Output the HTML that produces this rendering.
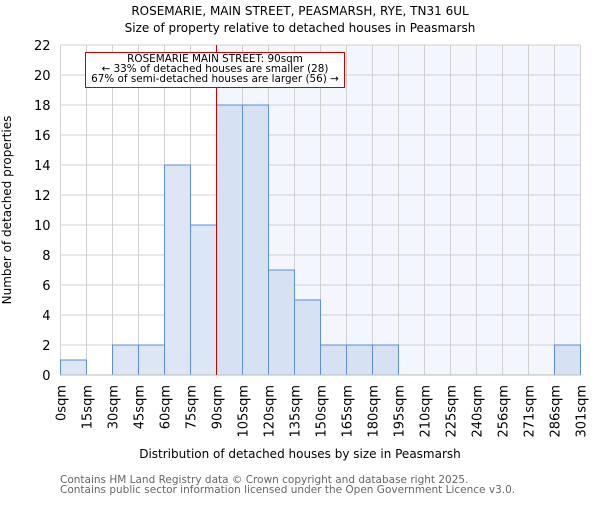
<!DOCTYPE html>
<html><head><meta charset="utf-8"><style>
body{margin:0;background:#fff}
svg text{font-family:"DejaVu Sans","Liberation Sans",sans-serif}
</style></head><body>
<svg id="chart" width="600" height="500" viewBox="0 0 600 500">
<text x="300" y="15" text-anchor="middle" font-size="12" fill="#000">ROSEMARIE, MAIN STREET, PEASMARSH, RYE, TN31 6UL</text>
<text x="300" y="32" text-anchor="middle" font-size="12" fill="#000">Size of property relative to detached houses in Peasmarsh</text>
<rect id="bgR" fill="#f3f6fd"/>
<g id="grid"></g>
<g id="bars"></g>
<g id="axes"></g>
<text x="300" y="458" text-anchor="middle" font-size="12">Distribution of detached houses by size in Peasmarsh</text>
<text transform="translate(11,210) rotate(-90)" text-anchor="middle" font-size="12">Number of detached properties</text>
<text x="60" y="483" font-size="10.5" fill="#666">Contains HM Land Registry data © Crown copyright and database right 2025.</text>
<text x="60" y="493" font-size="10.5" fill="#666">Contains public sector information licensed under the Open Government Licence v3.0.</text>
</svg>
<script>
const categories=["0sqm","15sqm","30sqm","45sqm","60sqm","75sqm","90sqm","105sqm","120sqm","135sqm","150sqm","165sqm","180sqm","195sqm","210sqm","225sqm","240sqm","256sqm","271sqm","286sqm","301sqm"];
const counts=[1,0,2,2,14,10,18,18,7,5,2,2,2,0,0,0,0,0,0,2];
const yTicks=[0,2,4,6,8,10,12,14,16,18,20,22];
const markerBin=6;
const annotation=["ROSEMARIE MAIN STREET: 90sqm","← 33% of detached houses are smaller (28)","67% of semi-detached houses are larger (56) →"];
const NS="http://www.w3.org/2000/svg";
const X0=60.5,X1=580.5,Y0=375,Y1=45,yMax=22;
const bw=(X1-X0)/counts.length;
const xs=i=>X0+i*bw;
const ys=v=>Y0-(v/yMax)*(Y0-Y1);
function mk(t,a,p){const e=document.createElementNS(NS,t);for(const k in a)e.setAttribute(k,a[k]);p.appendChild(e);return e;}
const bg=document.getElementById('bgR');
bg.setAttribute('x',xs(markerBin));bg.setAttribute('y',Y1);bg.setAttribute('width',X1-xs(markerBin));bg.setAttribute('height',Y0-Y1);
const grid=document.getElementById('grid'),bars=document.getElementById('bars'),axes=document.getElementById('axes');
for(let i=0;i<=counts.length;i++){const l=mk('line',{x1:xs(i),x2:xs(i),y1:Y1,y2:Y0,stroke:'#d0d0d0','stroke-width':1},grid);

}
yTicks.forEach(v=>{const l=mk('line',{x1:X0,x2:X1,y1:ys(v),y2:ys(v),stroke:'#d0d0d0','stroke-width':1},grid);


const t=mk('text',{x:X0-10,y:ys(v)+5,'text-anchor':'end','font-size':13},axes);t.textContent=v;

});
counts.forEach((c,i)=>{if(c<=0)return;const r=mk('rect',{x:xs(i),y:ys(c),width:bw,height:ys(0)-ys(c),fill:i<markerBin?'#dce6f4':'#d6e1f3',stroke:'#5b8fd6','stroke-width':1},bars);

});
categories.forEach((c,i)=>{const t=mk('text',{transform:`translate(${xs(i)+5},${Y0+10}) rotate(-90)`,'text-anchor':'end','font-size':13},axes);t.textContent=c;

});
const ax=mk('line',{x1:X0,x2:X1,y1:Y0,y2:Y0,stroke:'#bbb'},axes);


const ml=mk('line',{x1:xs(markerBin),x2:xs(markerBin),y1:Y1,y2:Y0,stroke:'#cc0000','stroke-width':1},axes);


const box=mk('rect',{x:85.5,y:52.5,width:259,height:35,fill:'#fff',stroke:'#cc0000','stroke-width':1},axes);


annotation.forEach((s,k)=>{const t=mk('text',{x:215,y:62+k*10,'text-anchor':'middle','font-size':10.4},axes);t.textContent=s;

});
</script>
</body></html>
